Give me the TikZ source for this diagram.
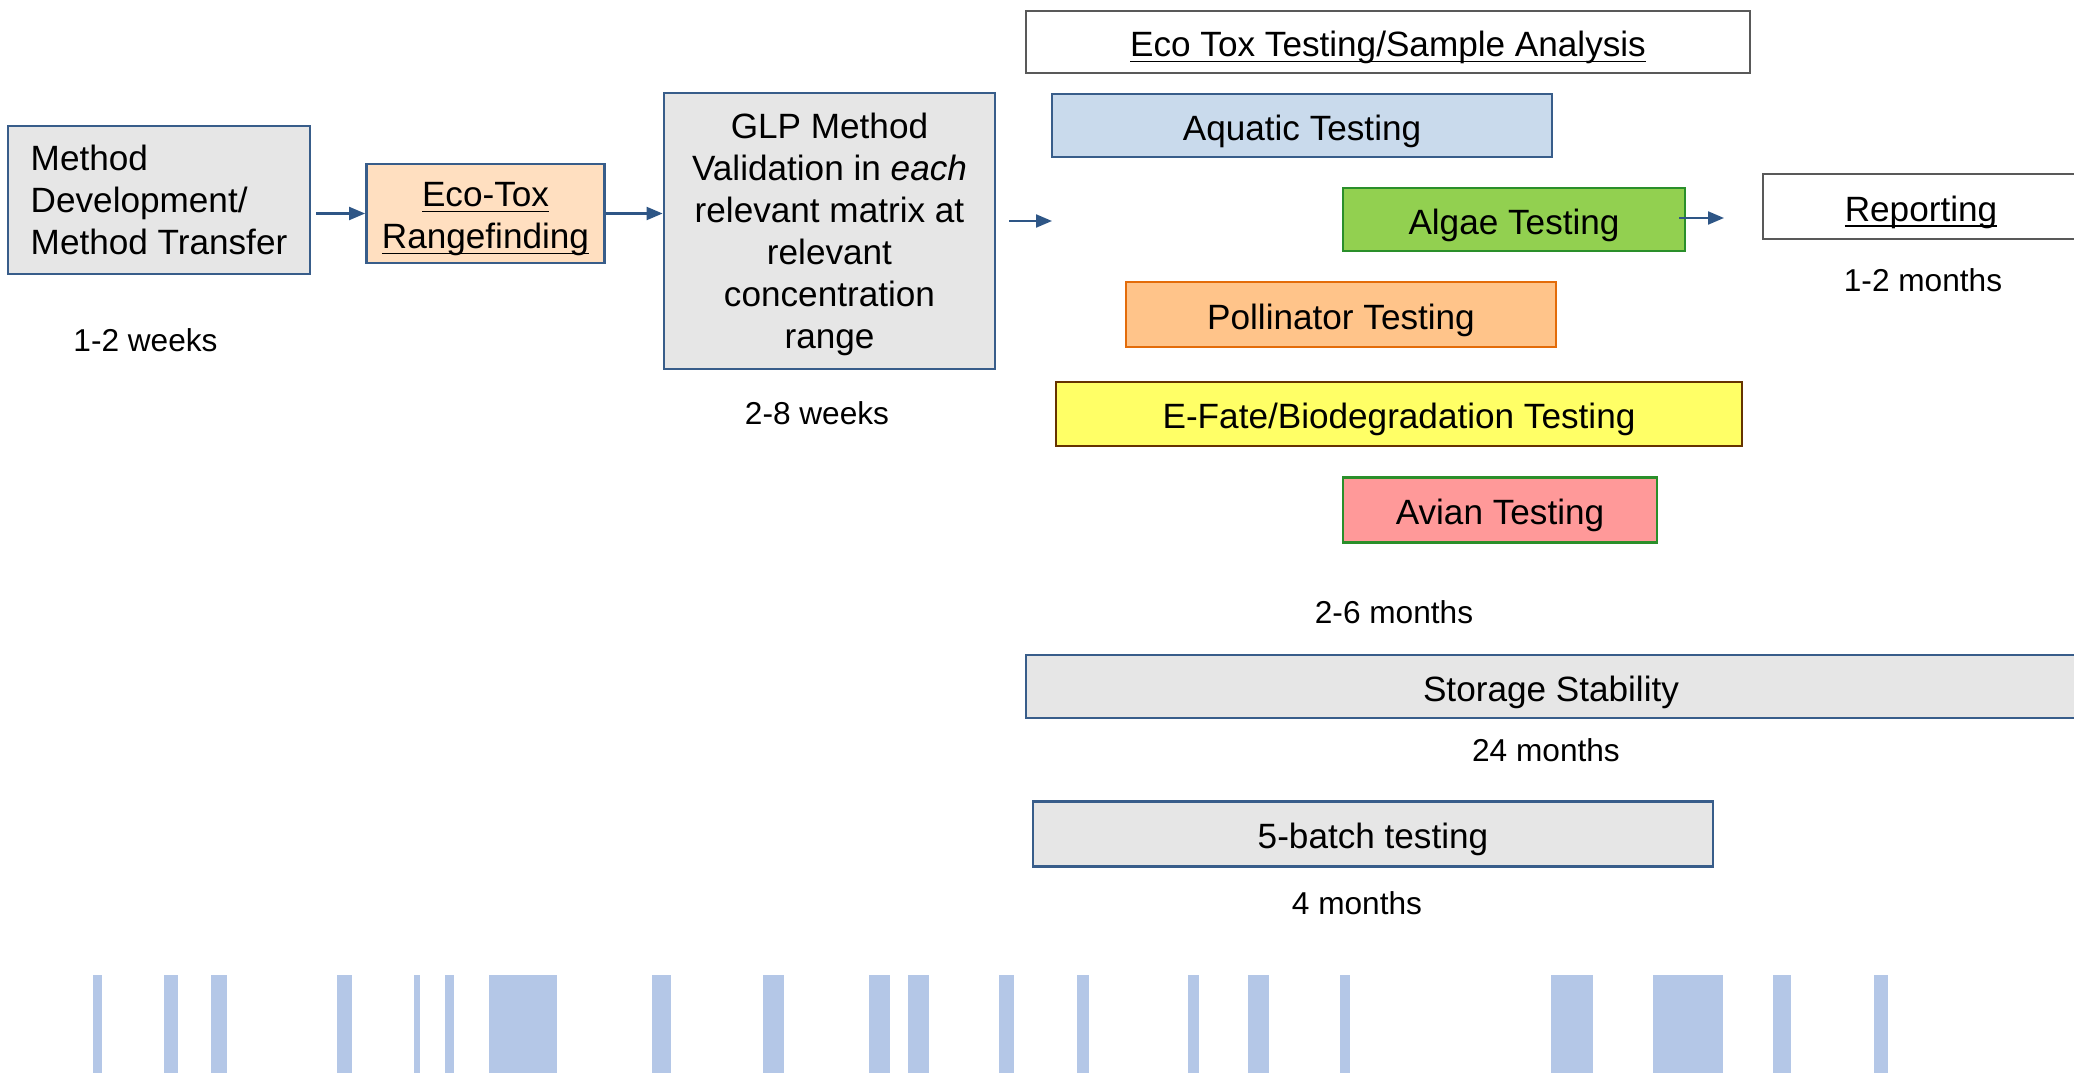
\documentclass[tikz,border=0pt]{standalone}
\usepackage{fontspec}
\setmainfont{Liberation Sans}
\usetikzlibrary{positioning}
\usetikzlibrary{arrows.meta}
\definecolor{fillgray}{HTML}{E6E6E6}
\definecolor{edgeblue}{HTML}{385D8A}
\definecolor{arrowblue}{HTML}{2E5686}
\definecolor{fillpeach}{HTML}{FFDFC0}
\definecolor{fillblue}{HTML}{C9DAEC}
\definecolor{fillgreen}{HTML}{92D050}
\definecolor{edgegreen}{HTML}{2A8F2A}
\definecolor{fillorange}{HTML}{FFC48A}
\definecolor{edgeorange}{HTML}{E36C0A}
\definecolor{fillyellow}{HTML}{FFFF66}
\definecolor{edgebrown}{HTML}{663300}
\definecolor{fillred}{HTML}{FF9999}
\definecolor{edgegray}{HTML}{595959}
\definecolor{barblue}{HTML}{B4C7E7}
\newcommand{\uln}[1]{\underline{\smash{#1}}\vphantom{#1}}
\tikzset{
    boxgray/.style = {rectangle, line width=0.8pt, draw=edgeblue, fill=fillgray, align=center, inner sep=0pt, font=\fontsize{10}{12}\selectfont, text=black},
    boxpeach/.style = {rectangle, line width=0.8pt, draw=edgeblue, fill=fillpeach, align=center, inner sep=0pt, font=\fontsize{10}{12}\selectfont, text=black},
    boxwhite/.style = {rectangle, line width=0.8pt, draw=edgegray, fill=white, inner sep=0pt, text height=8.4pt, text depth=0pt, font=\fontsize{10}{12}\selectfont, text=black},
    boxblue/.style = {rectangle, line width=0.8pt, draw=edgeblue, fill=fillblue, inner sep=0pt, text height=8.4pt, text depth=0pt, font=\fontsize{10}{12}\selectfont, text=black},
    boxgreen/.style = {rectangle, line width=0.8pt, draw=edgegreen, fill=fillgreen, inner sep=0pt, text height=8.4pt, text depth=0pt, font=\fontsize{10}{12}\selectfont, text=black},
    boxorange/.style = {rectangle, line width=0.8pt, draw=edgeorange, fill=fillorange, inner sep=0pt, text height=8.4pt, text depth=0pt, font=\fontsize{10}{12}\selectfont, text=black},
    boxyellow/.style = {rectangle, line width=0.8pt, draw=edgebrown, fill=fillyellow, inner sep=0pt, text height=8.4pt, text depth=0pt, font=\fontsize{10}{12}\selectfont, text=black},
    boxred/.style = {rectangle, line width=0.8pt, draw=edgegreen, fill=fillred, inner sep=0pt, text height=8.4pt, text depth=0pt, font=\fontsize{10}{12}\selectfont, text=black},
    boxbar/.style = {rectangle, line width=0.8pt, draw=edgeblue, fill=fillgray, inner sep=0pt, text height=8.4pt, text depth=0pt, font=\fontsize{10}{12}\selectfont, text=black},
    durlabel/.style = {inner sep=0pt, font=\fontsize{9}{11}\selectfont, text=black},
    edgea/.style = {-{Triangle[length=1.6mm,width=1.3mm]}, line width=0.6pt, arrowblue}, % flow
}

\begin{document}
\begin{tikzpicture}
\path[use as bounding box, fill=white] (0,0) rectangle (20.74,-10.73);
%
\node[boxgray, align=left, minimum width=3.02cm, minimum height=1.48cm] at (1.59,-2.00) (meth) {Method\\Development/\\Method Transfer};
\node[boxpeach, minimum width=2.38cm, minimum height=0.99cm] at (4.855,-2.135) (eco) {\rule{0pt}{10.2pt}\uln{Eco-Tox}\\\uln{Rangefinding}};
\node[boxgray, minimum width=3.31cm, minimum height=2.76cm] at (8.295,-2.31) (glp) {\rule{0pt}{9.2pt}GLP Method\\Validation in \textit{each}\\relevant matrix at\\relevant\\concentration\\range};
%
\node[boxwhite, minimum width=7.24cm, minimum height=0.62cm] at (13.88,-0.42) (tox) {\uln{Eco Tox Testing/Sample Analysis}};
\node[boxblue, minimum width=5.00cm, minimum height=0.63cm] at (13.02,-1.255) (aqu) {Aquatic Testing};
\node[boxgreen, minimum width=3.42cm, minimum height=0.63cm] at (15.14,-2.195) (alg) {Algae Testing};
\node[boxwhite, minimum width=3.16cm, minimum height=0.65cm] at (19.21,-2.065) (rep) {\uln{Reporting}};
\node[boxorange, minimum width=4.30cm, minimum height=0.65cm] at (13.41,-3.145) (pol) {Pollinator Testing};
\node[boxyellow, minimum width=6.86cm, minimum height=0.64cm] at (13.99,-4.14) (efa) {E-Fate/Biodegradation Testing};
\node[boxred, minimum width=3.14cm, minimum height=0.65cm] at (15.0,-5.10) (avi) {Avian Testing};
\node[boxbar, minimum width=10.50cm, minimum height=0.63cm] at (15.51,-6.865) (sto) {Storage Stability};
\node[boxbar, minimum width=6.80cm, minimum height=0.65cm] at (13.73,-8.34) (bat) {5-batch testing};
%
\node[durlabel] at (1.455,-3.40) (w12) {1-2 weeks};
\node[durlabel] at (8.17,-4.13) (w28) {2-8 weeks};
\node[durlabel] at (19.23,-2.80) (m12) {1-2 months};
\node[durlabel] at (13.94,-6.12) (m26) {2-6 months};
\node[durlabel] at (15.46,-7.50) (m24) {24 months};
\node[durlabel] at (13.57,-9.03) (m4) {4 months};
%
\coordinate (tx) at (10.52,-2.21);
\coordinate (rx) at (17.24,-2.18);
\draw[edgea] ([xshift=0.05cm]meth.east |- eco.west) -- (eco.west);
\draw[edgea] (eco.east) -- (glp.west |- eco.east);
\draw[edgea] ([xshift=0.13cm]glp.east |- tx) -- (tx);
\draw[edgea] ([xshift=-0.07cm]alg.east |- rx) -- (rx);
%
\foreach \a/\b in {0.933/1.017, 1.642/1.782, 2.112/2.266, 3.367/3.522, 4.139/4.202,
    4.448/4.539, 4.89/5.57, 6.517/6.713, 7.632/7.836, 8.692/8.895, 9.077/9.288,
    9.99/10.144, 10.768/10.894, 11.877/11.986, 12.48/12.69, 13.397/13.50,
    15.514/15.932, 16.534/17.233, 17.726/17.911, 18.74/18.877}
    \fill[barblue] (\a,-9.75) rectangle (\b,-10.73);
\end{tikzpicture}
\end{document}
